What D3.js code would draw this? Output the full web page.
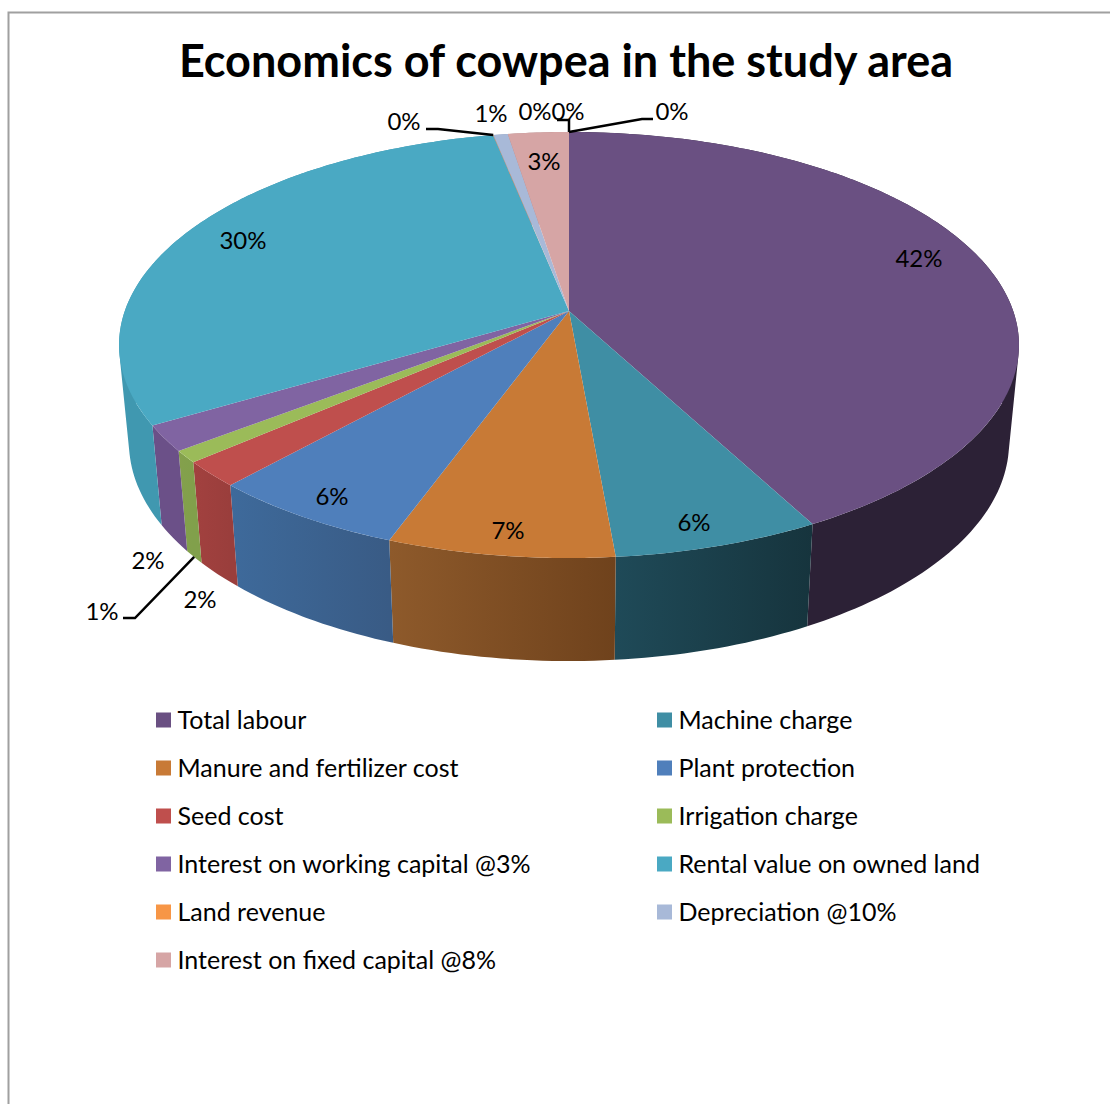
<!DOCTYPE html>
<html>
<head>
<meta charset="utf-8">
<style>
	body {margin:0; background:#fff;}
	text {font-family:Lato, "Open Sans", sans-serif; fill:#000;}
</style>
<script src="https://cdn.jsdelivr.net/npm/d3@7"></script>
</head>
<body>
<div id="chart"></div>
<script>
const W = 1110;
const H = 1104;

const title = 'Economics of cowpea in the study area';

//legend only names the first eleven, the last three slices are unnamed zeros
const categories = ['Total labour','Machine charge','Manure and fertilizer cost','Plant protection','Seed cost','Irrigation charge','Interest on working capital @3%','Rental value on owned land','Land revenue','Depreciation @10%','Interest on fixed capital @8%'];
const values = [42.2,6.4,7.0,6.15,1.95,0.9,1.95,30.3,0.02,0.6,2.55,0,0,0];

const topColors = ['#6a5082','#3f8ea4','#c87a36','#4f7fbb','#bf4f4d','#9bbb59','#8064a2','#4aa9c3','#f79646','#a8b9d8','#d6a5a5','#6a5082','#6a5082','#6a5082'];
const sideLeft = ['#2c2136','#1f4a58','#8e5a2b','#3e6a9b','#a2413f','#84a04c','#6b5088','#4098b0','#c87a36','#8a9ab5','#b08888','#2c2136','#2c2136','#2c2136'];
const sideRight = ['#2c2136','#16343d','#6f421c','#395b85','#9a3e3c','#81a04b','#6b5088','#3c92aa','#c87a36','#8a9ab5','#b08888','#2c2136','#2c2136','#2c2136'];

//where each data label sits, same order as values
const labelX = [919,694,508,332,200,102,148,243,404,491,544,535,568,672];
const labelY = [259,523,531,497,600,612,561,241,122,114,162,112,112,112];

//Perspective of the pie: apex, size of the top rim, and the bottom rim
const view = {cx:569, cy:311, rx:444.2, ry:207.6, p:0.1596};
const floor = {cx:569, cy:407.6, rx:434.4, ry:213, p:0.1596};

//angle is clockwise from 12 o'clock
function project(a, v){
	const d = 1 + v.p*Math.cos(a);
	return [v.cx + v.rx*Math.sin(a)/d, v.cy - v.ry*Math.cos(a)/d];
}

const line = d3.line();
const pct = d3.format('.0%');
const total = d3.sum(values);

const arcs = d3.pie().sort(null).startAngle(0).endAngle(2*Math.PI)(values);

function rim(a0, a1, v){
	const n = Math.max(2, Math.ceil((a1-a0)/0.01));
	return d3.range(n+1).map(i => project(a0 + (a1-a0)*i/n, v));
}

//A wall has to be swept in small pieces, the two rims cross at the sides of the pie
function wall(a0, a1){
	const n = Math.max(1, Math.ceil((a1-a0)/0.02));
	const top = rim(a0,a1,view);
	const bottom = rim(a0,a1,floor);
	const step = (top.length-1)/n;
	return d3.range(n).map(i => {
		const s = Math.round(i*step);
		const e = Math.round((i+1)*step);
		return line(d3.polygonHull([top[s],top[e],bottom[e],bottom[s]])) + 'Z';
	}).join('');
}

const svg = d3.select('#chart')
	.append('svg')
	.attr('width',W)
	.attr('height',H);

//Frame of the chart area, cut by the picture edges
svg.append('path')
	.attr('d','M8.5,1104V12.5H1110')
	.style('fill','none')
	.style('stroke','#a0a0a0')
	.style('stroke-width',2);

svg.append('text')
	.attr('x',566)
	.attr('y',77)
	.attr('text-anchor','middle')
	.style('font-size','45px')
	.style('font-weight','bold')
	.text(title);

//Side gradients
const defs = svg.append('defs');
arcs.forEach((d,i) => {
	const a = project(d.startAngle, view);
	const b = project(d.endAngle, view);
	const g = defs.append('linearGradient')
		.attr('id','side'+i)
		.attr('gradientUnits','userSpaceOnUse')
		.attr('x1',Math.min(a[0],b[0])).attr('x2',Math.max(a[0],b[0]))
		.attr('y1',0).attr('y2',0);
	g.append('stop').attr('offset',0).attr('stop-color',sideLeft[i]);
	g.append('stop').attr('offset',1).attr('stop-color',sideRight[i]);
});

//Walls, the back ones end up hidden under the top
svg.append('g').selectAll('path')
	.data(arcs.filter(d => d.value > 0))
	.enter()
	.append('path')
	.attr('d',d => wall(d.startAngle,d.endAngle))
	.style('fill',d => `url(#side${d.index})`);

//Top of the pie
svg.append('g').selectAll('path')
	.data(arcs.filter(d => d.value > 0))
	.enter()
	.append('path')
	.attr('d',d => line([[view.cx,view.cy]].concat(rim(d.startAngle,d.endAngle,view))) + 'Z')
	.style('fill',d => topColors[d.index]);

//Leader lines
const mid = d => (d.startAngle + d.endAngle)/2;
const leaders = [
	[[426,129],[438,129],project(mid(arcs[8]),view)],
	[[123,618],[135,618],project(mid(arcs[5]),floor)],
	[[557,120],[569,120],project(mid(arcs[12]),view)],
	[[653,119],[642,119],project(mid(arcs[13]),view)]
];
svg.append('g').selectAll('path')
	.data(leaders)
	.enter()
	.append('path')
	.attr('d',d => line(d))
	.style('fill','none')
	.style('stroke','#000')
	.style('stroke-width',2.5);

//Data labels
svg.append('g').selectAll('text')
	.data(arcs)
	.enter()
	.append('text')
	.attr('x',(d,i) => labelX[i])
	.attr('y',(d,i) => labelY[i])
	.attr('dy','0.35em')
	.attr('text-anchor','middle')
	.style('font-size','24px')
	.text(d => pct(d.value/total));

//Legend, two columns filled row by row
const legendCol = d3.scalePoint().domain([0,1]).range([156,657]);
const legendRow = d3.scaleLinear().domain([0,5]).range([720,960]);

const legend = svg.append('g').selectAll('g')
	.data(categories)
	.enter()
	.append('g')
	.attr('transform',(d,i) => `translate(${legendCol(i%2)},${legendRow(Math.floor(i/2))})`);

legend.append('rect')
	.attr('y',-7.5)
	.attr('width',15)
	.attr('height',15)
	.style('fill',(d,i) => topColors[i]);

legend.append('text')
	.attr('x',21.5)
	.attr('dy','0.35em')
	.style('font-size','25px')
	.text(d => d);
</script>
</body>
</html>
